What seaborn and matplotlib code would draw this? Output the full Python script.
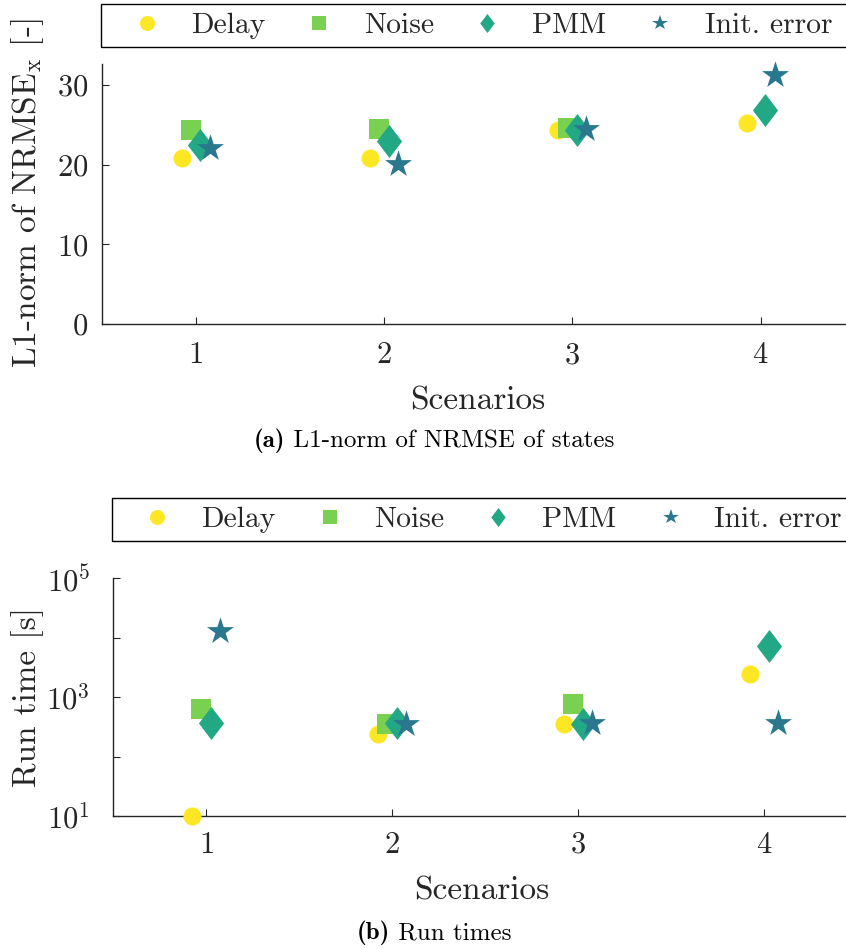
import numpy as np
import pandas as pd
import matplotlib
matplotlib.use("Agg")
import matplotlib.pyplot as plt
from matplotlib.path import Path
from matplotlib.lines import Line2D
from matplotlib.patches import Rectangle
from matplotlib.ticker import FixedLocator, FixedFormatter, LogLocator, NullFormatter
import seaborn as sns

# ---------------- data ----------------
scenarios = [1, 2, 3, 4]
methods = ["Delay", "Noise", "PMM", "Init. error"]

nrmse_delay = [20.9, 20.9, 24.4, 25.2]
nrmse_noise = [24.3, 24.5, 24.6, np.nan]
nrmse_pmm = [22.5, 23.0, 24.4, 26.9]
nrmse_init = [22.1, 20.1, 24.5, 31.2]

time_delay = [10, 240, 347, 2470]
time_noise = [620, 347, 750, np.nan]
time_pmm = [365, 362, 352, 7200]
time_init = [13000, 352, 365, 365]

nrmse_yticks = [0, 10, 20, 30]
time_yticks = [1e1, 1e2, 1e3, 1e4, 1e5]
time_yticklabels = [r"$10^{1}$", "", r"$10^{3}$", "", r"$10^{5}$"]

# ---------------- style ----------------
sns.set_style("ticks")
plt.rcParams["font.family"] = ["cmr10", "DejaVu Serif"]
plt.rcParams["mathtext.fontset"] = "cm"
plt.rcParams["axes.formatter.use_mathtext"] = True
plt.rcParams["axes.unicode_minus"] = False

W, H = 846, 949
fx = lambda px: px / W
fy = lambda py: 1 - py / H

colors = ["#FDE725", "#7AD151", "#22A884", "#2A788E"]
diamond = Path([(0, 1), (0.76, 0), (0, -1), (-0.76, 0), (0, 1)],
               [Path.MOVETO, Path.LINETO, Path.LINETO, Path.LINETO, Path.CLOSEPOLY])
markers = ["o", "s", diamond, "*"]
marker_s = [13.0 ** 2, 13.7 ** 2, 23.8 ** 2, 20.4 ** 2]
legend_ms = [10.8, 9.4, 13.7, 11.4]
dodge = [-0.075, -0.025, 0.025, 0.075]
axcol = "#262626"

fig = plt.figure(figsize=(W / 100, H / 100), dpi=100)


def make_df(series):
    rows = []
    for m, vals in zip(methods, series):
        for s, v in zip(scenarios, vals):
            rows.append({"method": m, "scenario": s, "value": v})
    return pd.DataFrame(rows)


def draw(ax, df):
    for i, m in enumerate(methods):
        sub = df[df["method"] == m].dropna()
        sns.scatterplot(x=sub["scenario"] + dodge[i], y=sub["value"], ax=ax,
                        marker=markers[i], s=marker_s[i], color=colors[i],
                        linewidth=0, clip_on=False, zorder=3 + i, legend=False)
    ax.set_xlim(0.5, 4.5)
    ax.set_xticks(scenarios)
    sns.despine(ax=ax)
    for sp in ["left", "bottom"]:
        ax.spines[sp].set_color(axcol)
        ax.spines[sp].set_linewidth(1.0)


def add_legend(x0, y0, hl, colsp):
    handles = [Line2D([], [], linestyle="none", marker=markers[i], markersize=legend_ms[i],
                      markerfacecolor=colors[i], markeredgewidth=0)
               for i in range(4)]
    leg = fig.legend(handles, methods, loc="upper left",
                     bbox_to_anchor=(fx(x0), fy(y0)), bbox_transform=fig.transFigure,
                     ncol=4, fontsize=21.3, frameon=False, borderaxespad=0, borderpad=0.28,
                     handlelength=hl, handletextpad=0.24, columnspacing=colsp)
    # box running off the right edge of the figure, like the reference
    fig.canvas.draw()
    bb = leg.get_window_extent(fig.canvas.get_renderer())
    fig.patches.append(Rectangle((fx(x0), bb.y0 / H), (W + 20 - x0) / W, bb.height / H,
                                 transform=fig.transFigure, fill=False,
                                 edgecolor="black", linewidth=1.0, zorder=5))
    return leg


def caption(xc, ybase, tag, rest):
    t1 = fig.text(fx(xc), fy(ybase), tag, ha="left", va="baseline", fontsize=18,
                  family="cmb10", color="black")
    t2 = fig.text(fx(xc), fy(ybase), " " + rest, ha="left", va="baseline", fontsize=18,
                  color="black")
    fig.canvas.draw()
    r = fig.canvas.get_renderer()
    w1 = t1.get_window_extent(r).width
    w2 = t2.get_window_extent(r).width
    x_left = xc - (w1 + w2) / 2
    t1.set_x(fx(x_left))
    t2.set_x(fx(x_left + w1))


# ---------------- top panel ----------------
ax1 = fig.add_axes([fx(101.6), fy(324), (854.8 - 101.6) / W, (324 - 63.5) / H])
df1 = make_df([nrmse_delay, nrmse_noise, nrmse_pmm, nrmse_init])
draw(ax1, df1)
ax1.set_ylim(0, 32.7)
ax1.set_yticks(nrmse_yticks)
ax1.tick_params(axis="both", direction="in", length=5, width=0.8, color=axcol,
                labelsize=22, labelcolor=axcol)
ax1.tick_params(axis="y", pad=9.8)
ax1.tick_params(axis="x", pad=13)
ax1.set_xlabel("Scenarios", fontsize=24, color=axcol)
ax1.xaxis.set_label_coords(fx(478), fy(409), transform=fig.transFigure)
ax1.xaxis.label.set_va("baseline")
ax1.set_ylabel(r"L1-norm of NRMSE$_\mathrm{x}$ [-]", fontsize=24, color=axcol)
ax1.yaxis.set_label_coords(fx(36), fy(193.7), transform=fig.transFigure)
ax1.yaxis.label.set_va("baseline")
add_legend(100.5, 4, 2.55, 0.53)

# ---------------- bottom panel ----------------
ax2 = fig.add_axes([fx(113), fy(816), (857 - 113) / W, (816 - 578) / H])
df2 = make_df([time_delay, time_noise, time_pmm, time_init])
draw(ax2, df2)
ax2.set_yscale("log")
ax2.set_ylim(1e1, 1e5)
ax2.yaxis.set_major_locator(FixedLocator(time_yticks))
ax2.yaxis.set_major_formatter(FixedFormatter(time_yticklabels))
ax2.yaxis.set_minor_locator(LogLocator(base=10, subs=np.arange(2, 10)))
ax2.yaxis.set_minor_formatter(NullFormatter())
ax2.tick_params(axis="both", which="major", direction="in", length=5, width=0.8,
                color=axcol, labelsize=22, labelcolor=axcol)
ax2.tick_params(axis="y", which="minor", direction="in", length=3, width=0.6, color=axcol)
ax2.tick_params(axis="y", which="major", pad=16.5)
ax2.tick_params(axis="x", pad=11)
ax2.set_xlabel("Scenarios", fontsize=24, color=axcol)
ax2.xaxis.set_label_coords(fx(482), fy(900), transform=fig.transFigure)
ax2.xaxis.label.set_va("baseline")
ax2.set_ylabel("Run time [s]", fontsize=24, color=axcol)
ax2.yaxis.set_label_coords(fx(36), fy(697), transform=fig.transFigure)
ax2.yaxis.label.set_va("baseline")
add_legend(112.4, 498, 2.48, 0.6)

caption(434, 447, "(a)", "L1-norm of NRMSE of states")
caption(434, 939, "(b)", "Run times")

fig.savefig("out.png", dpi=100)
